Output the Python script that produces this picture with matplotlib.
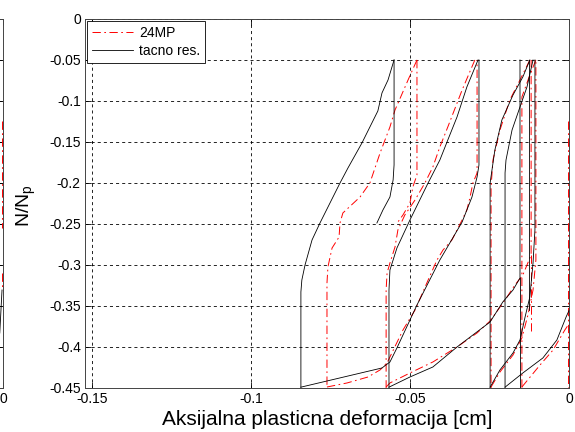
import matplotlib
matplotlib.use('Agg')
import matplotlib.pyplot as plt

# MATLAB-like look
matplotlib.rcParams['font.family'] = ['Liberation Sans', 'DejaVu Sans']
matplotlib.rcParams['axes.unicode_minus'] = False
matplotlib.rcParams['lines.scale_dashes'] = False

# ---- data: 24MP (red dash-dot) ----
mp_x = [
    [-0.0478, -0.0506, -0.0547, -0.0563, -0.0594, -0.0626, -0.0657, -0.0711, -0.0720, -0.0723, -0.0745, -0.0758, -0.0761, -0.0761],
    [-0.0761, -0.0698, -0.0632, -0.0594, -0.0572, -0.0563, -0.0522, -0.0484, -0.0447, -0.0415, -0.0396, -0.0368, -0.0336, -0.0321, -0.0311, -0.0302, -0.0289, -0.0289],
    [-0.0478, -0.0478, -0.0491, -0.0500, -0.0522, -0.0538],
    [-0.0296, -0.0336, -0.0381, -0.0406, -0.0428, -0.0453, -0.0484, -0.0516, -0.0538, -0.0547, -0.0563, -0.0572, -0.0575, -0.0575],
    [-0.0575, -0.0563, -0.0500, -0.0428, -0.0352, -0.0289, -0.0248, -0.0201, -0.0170, -0.0145, -0.0119, -0.0119],
    [-0.0119, -0.0119],
    [-0.0123, -0.0154, -0.0186, -0.0217, -0.0239, -0.0245, -0.0245],
    [-0.0245, -0.0217, -0.0176, -0.0148, -0.0129, -0.0113, -0.0104, -0.0104],
    [-0.0104, -0.0123, -0.0148, -0.0148],
    [-0.0148, -0.0091, -0.0050, -0.0013, 0.0019],
    [-0.0003, -0.0003],
]
mp_y = [
    [-0.05, -0.0744, -0.1110, -0.1317, -0.1634, -0.2000, -0.2171, -0.2366, -0.2488, -0.2659, -0.2793, -0.3024, -0.3220, -0.46],
    [-0.4488, -0.4439, -0.4366, -0.4280, -0.4195, -0.4122, -0.3793, -0.3549, -0.3220, -0.2939, -0.2817, -0.2695, -0.2451, -0.2329, -0.2171, -0.2000, -0.1878, -0.05],
    [-0.05, -0.1902, -0.2049, -0.2244, -0.2390, -0.2476],
    [-0.05, -0.0866, -0.1317, -0.1561, -0.1805, -0.2000, -0.2207, -0.2390, -0.2573, -0.2780, -0.2976, -0.3098, -0.3305, -0.46],
    [-0.4488, -0.4439, -0.4317, -0.4183, -0.4000, -0.3829, -0.3683, -0.3427, -0.3244, -0.3122, -0.2878, -0.05],
    [-0.2878, -0.38],
    [-0.05, -0.0744, -0.0988, -0.1354, -0.1720, -0.2049, -0.46],
    [-0.4488, -0.4305, -0.4098, -0.3890, -0.3610, -0.3305, -0.2939, -0.05],
    [-0.05, -0.0683, -0.0951, -0.46],
    [-0.4488, -0.4220, -0.4037, -0.3793, -0.3610],
    [-0.125, -0.46],
]

# ---- data: tacno res. (black solid) ----
ex_x = [
    [-0.0550, -0.0569, -0.0588, -0.0601, -0.0651, -0.0695, -0.0720, -0.0783, -0.0808, -0.0830, -0.0840, -0.0843, -0.0843],
    [-0.0843, -0.0588, -0.0563, -0.0541, -0.0478, -0.0406, -0.0336, -0.0305, -0.0289, -0.0283, -0.0283],
    [-0.0550, -0.0550, -0.0553, -0.0563, -0.0585, -0.0604],
    [-0.0286, -0.0321, -0.0352, -0.0381, -0.0406, -0.0443, -0.0500, -0.0541, -0.0563, -0.0566, -0.0566],
    [-0.0566, -0.0500, -0.0428, -0.0352, -0.0248, -0.0208, -0.0176, -0.0154, -0.0154],
    [-0.0154, -0.0154],
    [-0.0123, -0.0145, -0.0176, -0.0211, -0.0233, -0.0248, -0.0248],
    [-0.0248, -0.0217, -0.0176, -0.0154, -0.0138, -0.0123, -0.0113, -0.0107, -0.0107],
    [-0.0126, -0.0126],
    [-0.0113, -0.0132, -0.0154, -0.0179, -0.0198, -0.0201, -0.0201],
    [-0.0201, -0.0145, -0.0082, -0.0038, -0.0009, 0.0030],
]
ex_y = [
    [-0.05, -0.0744, -0.0902, -0.1122, -0.1512, -0.1817, -0.2000, -0.2488, -0.2695, -0.3000, -0.3183, -0.3329, -0.46],
    [-0.449, -0.4256, -0.4183, -0.4012, -0.3488, -0.2939, -0.2476, -0.2171, -0.1927, -0.1780, -0.05],
    [-0.05, -0.1780, -0.1963, -0.2171, -0.2329, -0.2488],
    [-0.05, -0.0829, -0.1195, -0.1476, -0.1720, -0.2000, -0.2451, -0.2793, -0.3061, -0.3305, -0.46],
    [-0.449, -0.4366, -0.4244, -0.4000, -0.3695, -0.3451, -0.3305, -0.3159, -0.05],
    [-0.3159, -0.46],
    [-0.05, -0.0707, -0.0927, -0.1232, -0.1598, -0.2000, -0.46],
    [-0.449, -0.4280, -0.4073, -0.3915, -0.3634, -0.3390, -0.2976, -0.2573, -0.05],
    [-0.05, -0.355],
    [-0.05, -0.0829, -0.1073, -0.1354, -0.1720, -0.1878, -0.46],
    [-0.449, -0.4317, -0.4134, -0.3915, -0.3634, -0.33],
]

# neighbouring subplot (only its right edge is visible)
left_mp_x = [[-0.0003, -0.0003], [-0.0003, -0.0003]]
left_mp_y = [[-0.125, -0.255], [-0.31, -0.33]]
left_ex_x = [[-0.0003, -0.0010]]
left_ex_y = [[-0.3305, -0.383]]

xticks = [-0.15, -0.1, -0.05, 0]
xtick_labels = ['-0.15', '-0.1', '-0.05', '0']
yticks = [0, -0.05, -0.1, -0.15, -0.2, -0.25, -0.3, -0.35, -0.4, -0.45]
ytick_labels = ['0', '-0.05', '-0.1', '-0.15', '-0.2', '-0.25', '-0.3', '-0.35', '-0.4', '-0.45']

red_dash = (0, (6, 2.5, 1.2, 2.5))
grid_dash = (0, (2.2, 2.2))


def style_axes(ax):
    ax.set_xlim(-0.1522, 0)
    ax.set_ylim(-0.45, 0)
    ax.set_xticks(xticks)
    ax.set_xticklabels(xtick_labels)
    ax.set_yticks(yticks)
    ax.set_yticklabels(ytick_labels)
    ax.tick_params(direction='in', length=4, width=0.6, top=True, right=True,
                   labelsize=10, pad=3, colors='black')
    ax.grid(True, color='black', linestyle=grid_dash, linewidth=0.6)
    for s in ax.spines.values():
        s.set_linewidth(0.7)
        s.set_color('#444444')


fig = plt.figure(figsize=(5.75, 4.32), dpi=100)

# partial left subplot, only the "0" tick label falls inside the figure
ax0 = fig.add_axes([0.0052 - 0.8417, 0.1019, 0.8417, 0.8542])
style_axes(ax0)
ax0.set_xlim(-0.15, 0)
ax0.set_xticklabels(['', '', '', '0'])
ax0.set_yticklabels([])
for xs, ys in zip(left_mp_x, left_mp_y):
    ax0.plot(xs, ys, color='red', linestyle=red_dash, linewidth=0.7)
for xs, ys in zip(left_ex_x, left_ex_y):
    ax0.plot(xs, ys, color='black', linewidth=0.6)

# main axes
ax = fig.add_axes([0.1478, 0.1019, 0.8417, 0.8542])
style_axes(ax)

for i, (xs, ys) in enumerate(zip(mp_x, mp_y)):
    ax.plot(xs, ys, color='red', linestyle=red_dash, linewidth=0.7,
            label='24MP' if i == 0 else None)
for i, (xs, ys) in enumerate(zip(ex_x, ex_y)):
    ax.plot(xs, ys, color='black', linewidth=0.6,
            label='tacno res.' if i == 0 else None)

leg = ax.legend(loc='upper left', bbox_to_anchor=(0.005, 0.995), borderaxespad=0,
                fancybox=False, framealpha=1, edgecolor='black', fontsize=10,
                handlelength=2.9, labelspacing=0.3, borderpad=0.35, handletextpad=0.45)
leg.get_frame().set_linewidth(0.6)

ax.set_xlabel('Aksijalna plasticna deformacija [cm]', fontsize=15, labelpad=3)
fig.text(0.045, 0.525, r'N/N$_\mathregular{p}$', rotation=90, fontsize=14,
         ha='center', va='center')

fig.savefig('out.png', dpi=100)
